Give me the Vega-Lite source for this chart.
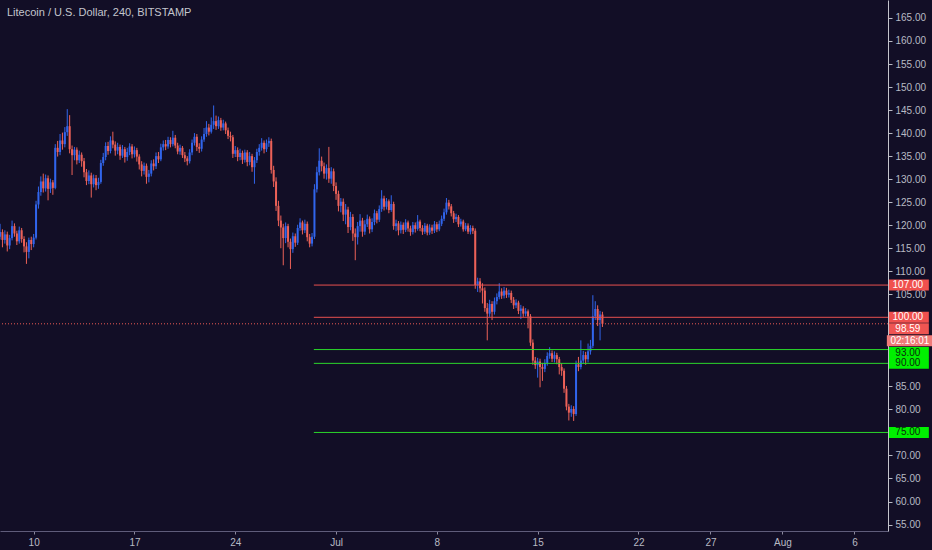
{
  "$schema": "https://vega.github.io/schema/vega-lite/v6.json",
  "description": "Litecoin / U.S. Dollar, 4h candles from Bitstamp with support and resistance levels.",
  "width": 888,
  "height": 531,
  "autosize": {"type": "none"},
  "padding": {"left": 0, "top": 0, "right": 44, "bottom": 19},
  "background": "#120e26",
  "config": {
    "view": {"stroke": null, "fill": "#120e26"},
    "font": "Liberation Sans",
    "axis": {"labelOverlap": false, "grid": false}
  },
  "title": {
    "text": "Litecoin / U.S. Dollar, 240, BITSTAMP",
    "anchor": "start",
    "frame": "group",
    "offset": -18,
    "dx": 7,
    "fontSize": 11,
    "fontWeight": "normal",
    "font": "Liberation Sans",
    "color": "#c3c5cd"
  },
  "datasets": {
    "candles": [
      {"t": "2019-06-07T12:00", "o": 116.9, "h": 119.2, "l": 115.8, "c": 117.5},
      {"t": "2019-06-07T16:00", "o": 117.5, "h": 120.3, "l": 116.9, "c": 118.5},
      {"t": "2019-06-07T20:00", "o": 118.5, "h": 119.1, "l": 115.2, "c": 116.8},
      {"t": "2019-06-08T00:00", "o": 116.8, "h": 118.9, "l": 116.0, "c": 118.0},
      {"t": "2019-06-08T04:00", "o": 118.0, "h": 118.6, "l": 114.3, "c": 115.6},
      {"t": "2019-06-08T08:00", "o": 115.6, "h": 117.9, "l": 114.8, "c": 117.2},
      {"t": "2019-06-08T12:00", "o": 117.2, "h": 121.0, "l": 116.7, "c": 119.8},
      {"t": "2019-06-08T16:00", "o": 119.8, "h": 120.4, "l": 117.5, "c": 118.2},
      {"t": "2019-06-08T20:00", "o": 118.2, "h": 118.8, "l": 115.7, "c": 116.5},
      {"t": "2019-06-09T00:00", "o": 116.5, "h": 119.7, "l": 116.0, "c": 118.9},
      {"t": "2019-06-09T04:00", "o": 118.9, "h": 119.4, "l": 116.2, "c": 117.0},
      {"t": "2019-06-09T08:00", "o": 117.0, "h": 117.6, "l": 114.1, "c": 115.4},
      {"t": "2019-06-09T12:00", "o": 115.4, "h": 116.3, "l": 111.6, "c": 114.2},
      {"t": "2019-06-09T16:00", "o": 114.2, "h": 117.3, "l": 112.8, "c": 116.8},
      {"t": "2019-06-09T20:00", "o": 116.8, "h": 117.5, "l": 114.6, "c": 115.9},
      {"t": "2019-06-10T00:00", "o": 115.9, "h": 118.1, "l": 115.2, "c": 117.3},
      {"t": "2019-06-10T04:00", "o": 117.3, "h": 125.3, "l": 116.9, "c": 124.5},
      {"t": "2019-06-10T08:00", "o": 124.5, "h": 128.4, "l": 123.6, "c": 127.2},
      {"t": "2019-06-10T12:00", "o": 127.2, "h": 130.6, "l": 126.4, "c": 129.5},
      {"t": "2019-06-10T16:00", "o": 129.5, "h": 131.2, "l": 127.1, "c": 128.0},
      {"t": "2019-06-10T20:00", "o": 128.0, "h": 131.0, "l": 127.3, "c": 130.2},
      {"t": "2019-06-11T00:00", "o": 130.2, "h": 130.8, "l": 125.4, "c": 127.9},
      {"t": "2019-06-11T04:00", "o": 127.9, "h": 130.1, "l": 127.0, "c": 129.3},
      {"t": "2019-06-11T08:00", "o": 129.3, "h": 129.8, "l": 126.6, "c": 128.1},
      {"t": "2019-06-11T12:00", "o": 128.1, "h": 137.6, "l": 127.8, "c": 136.8},
      {"t": "2019-06-11T16:00", "o": 136.8, "h": 138.3, "l": 134.9, "c": 135.9},
      {"t": "2019-06-11T20:00", "o": 135.9, "h": 139.8, "l": 135.2, "c": 138.4},
      {"t": "2019-06-12T00:00", "o": 138.4, "h": 140.1, "l": 136.4, "c": 137.6},
      {"t": "2019-06-12T04:00", "o": 137.6, "h": 141.3, "l": 136.9, "c": 140.2},
      {"t": "2019-06-12T08:00", "o": 140.2, "h": 145.2, "l": 139.4, "c": 141.5},
      {"t": "2019-06-12T12:00", "o": 141.5, "h": 143.9, "l": 135.6, "c": 136.5},
      {"t": "2019-06-12T16:00", "o": 136.5, "h": 137.3, "l": 130.9, "c": 135.2},
      {"t": "2019-06-12T20:00", "o": 135.2, "h": 137.0, "l": 134.1, "c": 136.4},
      {"t": "2019-06-13T00:00", "o": 136.4, "h": 136.9, "l": 133.2, "c": 134.1},
      {"t": "2019-06-13T04:00", "o": 134.1, "h": 136.2, "l": 133.5, "c": 135.3},
      {"t": "2019-06-13T08:00", "o": 135.3, "h": 135.8, "l": 132.7, "c": 133.9},
      {"t": "2019-06-13T12:00", "o": 133.9, "h": 134.6, "l": 130.4, "c": 131.5},
      {"t": "2019-06-13T16:00", "o": 131.5, "h": 132.2, "l": 128.7, "c": 129.6},
      {"t": "2019-06-13T20:00", "o": 129.6, "h": 131.9, "l": 128.9, "c": 130.8},
      {"t": "2019-06-14T00:00", "o": 130.8, "h": 131.4, "l": 126.0, "c": 128.9},
      {"t": "2019-06-14T04:00", "o": 128.9, "h": 131.0, "l": 128.2, "c": 130.2},
      {"t": "2019-06-14T08:00", "o": 130.2, "h": 130.9, "l": 127.6, "c": 128.7},
      {"t": "2019-06-14T12:00", "o": 128.7, "h": 130.3, "l": 127.9, "c": 129.4},
      {"t": "2019-06-14T16:00", "o": 129.4, "h": 134.2, "l": 129.0, "c": 133.5},
      {"t": "2019-06-14T20:00", "o": 133.5, "h": 135.7, "l": 132.9, "c": 134.8},
      {"t": "2019-06-15T00:00", "o": 134.8, "h": 138.0, "l": 134.1, "c": 137.2},
      {"t": "2019-06-15T04:00", "o": 137.2, "h": 138.1, "l": 135.3, "c": 136.1},
      {"t": "2019-06-15T08:00", "o": 136.1, "h": 139.3, "l": 135.6, "c": 138.4},
      {"t": "2019-06-15T12:00", "o": 138.4, "h": 140.3, "l": 136.7, "c": 137.5},
      {"t": "2019-06-15T16:00", "o": 137.5, "h": 138.2, "l": 135.1, "c": 136.2},
      {"t": "2019-06-15T20:00", "o": 136.2, "h": 137.9, "l": 135.4, "c": 137.0},
      {"t": "2019-06-16T00:00", "o": 137.0, "h": 137.5, "l": 134.2, "c": 135.1},
      {"t": "2019-06-16T04:00", "o": 135.1, "h": 137.4, "l": 134.6, "c": 136.5},
      {"t": "2019-06-16T08:00", "o": 136.5, "h": 137.0, "l": 133.6, "c": 134.8},
      {"t": "2019-06-16T12:00", "o": 134.8, "h": 136.8, "l": 134.0, "c": 135.9},
      {"t": "2019-06-16T16:00", "o": 135.9, "h": 137.8, "l": 135.2, "c": 137.1},
      {"t": "2019-06-16T20:00", "o": 137.1, "h": 137.6, "l": 134.5, "c": 135.4},
      {"t": "2019-06-17T00:00", "o": 135.4, "h": 137.1, "l": 134.7, "c": 136.3},
      {"t": "2019-06-17T04:00", "o": 136.3, "h": 136.8, "l": 133.8, "c": 134.9},
      {"t": "2019-06-17T08:00", "o": 134.9, "h": 135.4, "l": 132.1, "c": 133.2},
      {"t": "2019-06-17T12:00", "o": 133.2, "h": 133.9, "l": 130.6, "c": 131.8},
      {"t": "2019-06-17T16:00", "o": 131.8, "h": 133.6, "l": 131.0, "c": 132.9},
      {"t": "2019-06-17T20:00", "o": 132.9, "h": 133.4, "l": 129.0, "c": 130.5},
      {"t": "2019-06-18T00:00", "o": 130.5, "h": 132.0, "l": 129.3, "c": 131.2},
      {"t": "2019-06-18T04:00", "o": 131.2, "h": 134.1, "l": 130.6, "c": 133.4},
      {"t": "2019-06-18T08:00", "o": 133.4, "h": 134.3, "l": 131.9, "c": 132.8},
      {"t": "2019-06-18T12:00", "o": 132.8, "h": 135.8, "l": 132.2, "c": 135.0},
      {"t": "2019-06-18T16:00", "o": 135.0, "h": 135.9, "l": 133.5, "c": 134.3},
      {"t": "2019-06-18T20:00", "o": 134.3, "h": 137.7, "l": 133.9, "c": 136.9},
      {"t": "2019-06-19T00:00", "o": 136.9, "h": 138.4, "l": 136.2, "c": 137.6},
      {"t": "2019-06-19T04:00", "o": 137.6, "h": 138.5, "l": 136.3, "c": 137.1},
      {"t": "2019-06-19T08:00", "o": 137.1, "h": 139.2, "l": 136.6, "c": 138.5},
      {"t": "2019-06-19T12:00", "o": 138.5, "h": 139.1, "l": 136.9, "c": 137.6},
      {"t": "2019-06-19T16:00", "o": 137.6, "h": 140.5, "l": 137.1, "c": 139.0},
      {"t": "2019-06-19T20:00", "o": 139.0, "h": 139.6, "l": 136.7, "c": 137.3},
      {"t": "2019-06-20T00:00", "o": 137.3, "h": 137.9, "l": 135.4, "c": 136.0},
      {"t": "2019-06-20T04:00", "o": 136.0, "h": 137.5, "l": 135.3, "c": 136.8},
      {"t": "2019-06-20T08:00", "o": 136.8, "h": 137.2, "l": 134.6, "c": 135.2},
      {"t": "2019-06-20T12:00", "o": 135.2, "h": 135.9, "l": 133.7, "c": 134.5},
      {"t": "2019-06-20T16:00", "o": 134.5, "h": 135.0, "l": 133.0, "c": 133.9},
      {"t": "2019-06-20T20:00", "o": 133.9, "h": 136.5, "l": 133.4, "c": 135.8},
      {"t": "2019-06-21T00:00", "o": 135.8, "h": 138.6, "l": 135.2, "c": 137.9},
      {"t": "2019-06-21T04:00", "o": 137.9, "h": 140.0, "l": 137.3, "c": 139.2},
      {"t": "2019-06-21T08:00", "o": 139.2, "h": 139.8, "l": 136.1, "c": 137.0},
      {"t": "2019-06-21T12:00", "o": 137.0, "h": 137.8, "l": 135.7, "c": 136.6},
      {"t": "2019-06-21T16:00", "o": 136.6, "h": 139.3, "l": 136.0, "c": 138.6},
      {"t": "2019-06-21T20:00", "o": 138.6, "h": 141.1, "l": 138.1, "c": 139.8},
      {"t": "2019-06-22T00:00", "o": 139.8, "h": 142.6, "l": 139.2, "c": 141.2},
      {"t": "2019-06-22T04:00", "o": 141.2, "h": 142.0, "l": 139.5, "c": 140.3},
      {"t": "2019-06-22T08:00", "o": 140.3, "h": 143.4, "l": 139.9, "c": 141.8},
      {"t": "2019-06-22T12:00", "o": 141.8, "h": 146.0, "l": 140.9, "c": 142.6},
      {"t": "2019-06-22T16:00", "o": 142.6, "h": 143.8, "l": 140.7, "c": 141.5},
      {"t": "2019-06-22T20:00", "o": 141.5, "h": 143.6, "l": 140.9, "c": 142.8},
      {"t": "2019-06-23T00:00", "o": 142.8, "h": 143.3, "l": 140.5, "c": 141.2},
      {"t": "2019-06-23T04:00", "o": 141.2, "h": 142.9, "l": 140.6, "c": 142.1},
      {"t": "2019-06-23T08:00", "o": 142.1, "h": 142.5, "l": 139.8, "c": 140.6},
      {"t": "2019-06-23T12:00", "o": 140.6, "h": 141.2, "l": 138.7, "c": 139.4},
      {"t": "2019-06-23T16:00", "o": 139.4, "h": 140.3, "l": 138.2, "c": 139.1},
      {"t": "2019-06-23T20:00", "o": 139.1, "h": 139.6, "l": 134.6, "c": 135.5},
      {"t": "2019-06-24T00:00", "o": 135.5, "h": 137.2, "l": 134.8, "c": 136.3},
      {"t": "2019-06-24T04:00", "o": 136.3, "h": 136.9, "l": 133.9, "c": 134.8},
      {"t": "2019-06-24T08:00", "o": 134.8, "h": 136.6, "l": 134.1, "c": 135.7},
      {"t": "2019-06-24T12:00", "o": 135.7, "h": 136.2, "l": 133.3, "c": 134.2},
      {"t": "2019-06-24T16:00", "o": 134.2, "h": 136.4, "l": 133.6, "c": 135.8},
      {"t": "2019-06-24T20:00", "o": 135.8, "h": 136.3, "l": 132.8, "c": 133.7},
      {"t": "2019-06-25T00:00", "o": 133.7, "h": 135.9, "l": 133.0, "c": 135.0},
      {"t": "2019-06-25T04:00", "o": 135.0, "h": 135.5, "l": 131.6, "c": 132.6},
      {"t": "2019-06-25T08:00", "o": 132.6, "h": 134.8, "l": 129.0, "c": 134.1},
      {"t": "2019-06-25T12:00", "o": 134.1, "h": 136.6, "l": 133.5, "c": 135.9},
      {"t": "2019-06-25T16:00", "o": 135.9, "h": 137.6, "l": 135.1, "c": 136.8},
      {"t": "2019-06-25T20:00", "o": 136.8, "h": 138.9, "l": 136.2, "c": 137.9},
      {"t": "2019-06-26T00:00", "o": 137.9, "h": 138.4, "l": 135.6, "c": 136.5},
      {"t": "2019-06-26T04:00", "o": 136.5, "h": 138.6, "l": 135.9, "c": 137.8},
      {"t": "2019-06-26T08:00", "o": 137.8, "h": 139.1, "l": 137.0, "c": 138.3},
      {"t": "2019-06-26T12:00", "o": 138.3, "h": 138.8, "l": 131.2, "c": 132.0},
      {"t": "2019-06-26T16:00", "o": 132.0, "h": 132.9, "l": 128.3, "c": 129.5},
      {"t": "2019-06-26T20:00", "o": 129.5, "h": 130.4, "l": 123.1, "c": 124.2},
      {"t": "2019-06-27T00:00", "o": 124.2, "h": 125.3, "l": 119.8, "c": 121.0},
      {"t": "2019-06-27T04:00", "o": 121.0, "h": 122.1, "l": 115.0, "c": 119.5},
      {"t": "2019-06-27T08:00", "o": 119.5, "h": 120.3, "l": 111.3, "c": 117.2},
      {"t": "2019-06-27T12:00", "o": 117.2, "h": 120.6, "l": 116.1, "c": 119.8},
      {"t": "2019-06-27T16:00", "o": 119.8, "h": 120.3, "l": 115.2, "c": 116.4},
      {"t": "2019-06-27T20:00", "o": 116.4, "h": 117.1, "l": 110.5, "c": 114.8},
      {"t": "2019-06-28T00:00", "o": 114.8, "h": 118.4, "l": 114.0, "c": 117.6},
      {"t": "2019-06-28T04:00", "o": 117.6, "h": 118.2, "l": 115.3, "c": 116.2},
      {"t": "2019-06-28T08:00", "o": 116.2, "h": 120.1, "l": 115.7, "c": 119.4},
      {"t": "2019-06-28T12:00", "o": 119.4, "h": 121.5, "l": 118.8, "c": 120.6},
      {"t": "2019-06-28T16:00", "o": 120.6, "h": 121.0, "l": 118.0, "c": 118.9},
      {"t": "2019-06-28T20:00", "o": 118.9, "h": 121.2, "l": 118.3, "c": 120.3},
      {"t": "2019-06-29T00:00", "o": 120.3, "h": 120.8, "l": 116.5, "c": 117.4},
      {"t": "2019-06-29T04:00", "o": 117.4, "h": 118.1, "l": 115.2, "c": 116.0},
      {"t": "2019-06-29T08:00", "o": 116.0, "h": 118.3, "l": 115.4, "c": 117.5},
      {"t": "2019-06-29T12:00", "o": 117.5, "h": 128.9, "l": 117.0, "c": 127.8},
      {"t": "2019-06-29T16:00", "o": 127.8, "h": 132.7, "l": 127.1, "c": 131.5},
      {"t": "2019-06-29T20:00", "o": 131.5, "h": 136.7, "l": 130.8, "c": 134.0},
      {"t": "2019-06-30T00:00", "o": 134.0, "h": 134.9, "l": 131.7, "c": 132.8},
      {"t": "2019-06-30T04:00", "o": 132.8, "h": 133.6, "l": 130.1, "c": 131.2},
      {"t": "2019-06-30T08:00", "o": 131.2, "h": 133.2, "l": 129.9, "c": 132.4},
      {"t": "2019-06-30T12:00", "o": 132.4, "h": 137.0, "l": 129.2, "c": 130.1},
      {"t": "2019-06-30T16:00", "o": 130.1, "h": 132.6, "l": 129.0, "c": 131.7},
      {"t": "2019-06-30T20:00", "o": 131.7, "h": 132.3, "l": 127.4, "c": 128.5},
      {"t": "2019-07-01T00:00", "o": 128.5, "h": 129.3, "l": 125.5, "c": 126.8},
      {"t": "2019-07-01T04:00", "o": 126.8, "h": 127.5, "l": 123.0, "c": 124.2},
      {"t": "2019-07-01T08:00", "o": 124.2, "h": 125.9, "l": 122.8, "c": 125.1},
      {"t": "2019-07-01T12:00", "o": 125.1, "h": 125.8, "l": 120.9, "c": 122.3},
      {"t": "2019-07-01T16:00", "o": 122.3, "h": 124.6, "l": 120.2, "c": 123.4},
      {"t": "2019-07-01T20:00", "o": 123.4, "h": 124.0, "l": 118.3, "c": 119.6},
      {"t": "2019-07-02T00:00", "o": 119.6, "h": 122.9, "l": 118.9, "c": 121.8},
      {"t": "2019-07-02T04:00", "o": 121.8, "h": 122.4, "l": 116.6, "c": 118.2},
      {"t": "2019-07-02T08:00", "o": 118.2, "h": 119.3, "l": 112.4, "c": 117.4},
      {"t": "2019-07-02T12:00", "o": 117.4, "h": 120.7, "l": 115.8, "c": 119.8},
      {"t": "2019-07-02T16:00", "o": 119.8, "h": 122.4, "l": 118.6, "c": 121.0},
      {"t": "2019-07-02T20:00", "o": 121.0, "h": 121.6, "l": 117.5, "c": 118.6},
      {"t": "2019-07-03T00:00", "o": 118.6, "h": 121.1, "l": 117.9, "c": 120.2},
      {"t": "2019-07-03T04:00", "o": 120.2, "h": 122.3, "l": 119.6, "c": 121.4},
      {"t": "2019-07-03T08:00", "o": 121.4, "h": 121.9, "l": 118.2, "c": 119.1},
      {"t": "2019-07-03T12:00", "o": 119.1, "h": 121.5, "l": 118.5, "c": 120.7},
      {"t": "2019-07-03T16:00", "o": 120.7, "h": 123.4, "l": 120.0, "c": 122.6},
      {"t": "2019-07-03T20:00", "o": 122.6, "h": 123.1, "l": 120.4, "c": 121.2},
      {"t": "2019-07-04T00:00", "o": 121.2, "h": 124.3, "l": 120.7, "c": 123.5},
      {"t": "2019-07-04T04:00", "o": 123.5, "h": 127.6, "l": 122.9, "c": 125.8},
      {"t": "2019-07-04T08:00", "o": 125.8, "h": 126.4, "l": 123.2, "c": 124.0},
      {"t": "2019-07-04T12:00", "o": 124.0, "h": 125.9, "l": 123.4, "c": 125.2},
      {"t": "2019-07-04T16:00", "o": 125.2, "h": 125.6, "l": 122.6, "c": 123.3},
      {"t": "2019-07-04T20:00", "o": 123.3, "h": 126.5, "l": 122.9, "c": 124.6},
      {"t": "2019-07-05T00:00", "o": 124.6, "h": 125.1, "l": 119.0, "c": 119.8},
      {"t": "2019-07-05T04:00", "o": 119.8, "h": 121.2, "l": 118.7, "c": 120.4},
      {"t": "2019-07-05T08:00", "o": 120.4, "h": 120.9, "l": 117.8, "c": 118.9},
      {"t": "2019-07-05T12:00", "o": 118.9, "h": 120.8, "l": 118.2, "c": 120.1},
      {"t": "2019-07-05T16:00", "o": 120.1, "h": 120.6, "l": 118.1, "c": 119.0},
      {"t": "2019-07-05T20:00", "o": 119.0, "h": 121.3, "l": 118.5, "c": 120.6},
      {"t": "2019-07-06T00:00", "o": 120.6, "h": 121.0, "l": 118.6, "c": 119.3},
      {"t": "2019-07-06T04:00", "o": 119.3, "h": 119.9, "l": 117.7, "c": 118.5},
      {"t": "2019-07-06T08:00", "o": 118.5, "h": 120.7, "l": 118.0, "c": 120.0},
      {"t": "2019-07-06T12:00", "o": 120.0, "h": 120.6, "l": 118.4, "c": 119.2},
      {"t": "2019-07-06T16:00", "o": 119.2, "h": 122.2, "l": 118.8, "c": 120.8},
      {"t": "2019-07-06T20:00", "o": 120.8, "h": 121.2, "l": 118.7, "c": 119.4},
      {"t": "2019-07-07T00:00", "o": 119.4, "h": 120.0, "l": 117.9, "c": 118.6},
      {"t": "2019-07-07T04:00", "o": 118.6, "h": 120.5, "l": 118.1, "c": 119.9},
      {"t": "2019-07-07T08:00", "o": 119.9, "h": 120.3, "l": 117.8, "c": 118.4},
      {"t": "2019-07-07T12:00", "o": 118.4, "h": 120.2, "l": 117.9, "c": 119.5},
      {"t": "2019-07-07T16:00", "o": 119.5, "h": 120.1, "l": 118.1, "c": 118.8},
      {"t": "2019-07-07T20:00", "o": 118.8, "h": 120.9, "l": 118.3, "c": 120.2},
      {"t": "2019-07-08T00:00", "o": 120.2, "h": 120.7, "l": 118.5, "c": 119.1},
      {"t": "2019-07-08T04:00", "o": 119.1, "h": 121.0, "l": 118.7, "c": 120.3},
      {"t": "2019-07-08T08:00", "o": 120.3, "h": 122.1, "l": 119.8, "c": 121.4},
      {"t": "2019-07-08T12:00", "o": 121.4, "h": 123.6, "l": 120.9, "c": 122.8},
      {"t": "2019-07-08T16:00", "o": 122.8, "h": 125.9, "l": 122.3, "c": 124.9},
      {"t": "2019-07-08T20:00", "o": 124.9, "h": 125.5, "l": 123.4, "c": 124.1},
      {"t": "2019-07-09T00:00", "o": 124.1, "h": 124.6, "l": 121.9, "c": 122.6},
      {"t": "2019-07-09T04:00", "o": 122.6, "h": 123.1, "l": 120.5, "c": 121.3},
      {"t": "2019-07-09T08:00", "o": 121.3, "h": 122.5, "l": 120.7, "c": 121.8},
      {"t": "2019-07-09T12:00", "o": 121.8, "h": 122.2, "l": 119.6, "c": 120.2},
      {"t": "2019-07-09T16:00", "o": 120.2, "h": 121.4, "l": 119.7, "c": 120.8},
      {"t": "2019-07-09T20:00", "o": 120.8, "h": 121.2, "l": 118.6, "c": 119.1},
      {"t": "2019-07-10T00:00", "o": 119.1, "h": 120.5, "l": 118.7, "c": 119.9},
      {"t": "2019-07-10T04:00", "o": 119.9, "h": 120.4, "l": 118.1, "c": 118.6},
      {"t": "2019-07-10T08:00", "o": 118.6, "h": 120.0, "l": 118.0, "c": 119.4},
      {"t": "2019-07-10T12:00", "o": 119.4, "h": 119.9, "l": 118.1, "c": 118.8},
      {"t": "2019-07-10T16:00", "o": 118.8, "h": 119.3, "l": 106.2, "c": 107.0},
      {"t": "2019-07-10T20:00", "o": 107.0, "h": 108.6, "l": 105.5, "c": 107.8},
      {"t": "2019-07-11T00:00", "o": 107.8, "h": 108.5, "l": 105.4, "c": 106.3},
      {"t": "2019-07-11T04:00", "o": 106.3, "h": 107.4, "l": 103.0, "c": 105.8},
      {"t": "2019-07-11T08:00", "o": 105.8, "h": 106.5, "l": 101.2, "c": 102.0},
      {"t": "2019-07-11T12:00", "o": 102.0, "h": 103.1, "l": 95.0, "c": 100.8},
      {"t": "2019-07-11T16:00", "o": 100.8, "h": 103.8, "l": 100.1, "c": 102.9},
      {"t": "2019-07-11T20:00", "o": 102.9, "h": 103.5, "l": 99.4, "c": 101.2},
      {"t": "2019-07-12T00:00", "o": 101.2, "h": 104.3, "l": 100.6, "c": 103.5},
      {"t": "2019-07-12T04:00", "o": 103.5, "h": 105.2, "l": 102.8, "c": 104.4},
      {"t": "2019-07-12T08:00", "o": 104.4, "h": 107.4, "l": 103.9, "c": 105.6},
      {"t": "2019-07-12T12:00", "o": 105.6, "h": 106.3, "l": 104.0, "c": 104.7},
      {"t": "2019-07-12T16:00", "o": 104.7, "h": 106.6, "l": 104.1, "c": 105.8},
      {"t": "2019-07-12T20:00", "o": 105.8, "h": 106.4, "l": 104.2, "c": 104.9},
      {"t": "2019-07-13T00:00", "o": 104.9, "h": 106.0, "l": 104.3, "c": 105.3},
      {"t": "2019-07-13T04:00", "o": 105.3, "h": 105.8, "l": 103.1, "c": 103.8},
      {"t": "2019-07-13T08:00", "o": 103.8, "h": 104.4, "l": 101.8, "c": 102.6},
      {"t": "2019-07-13T12:00", "o": 102.6, "h": 103.9, "l": 102.0, "c": 103.2},
      {"t": "2019-07-13T16:00", "o": 103.2, "h": 103.6, "l": 100.7, "c": 101.4},
      {"t": "2019-07-13T20:00", "o": 101.4, "h": 102.7, "l": 99.6, "c": 101.9},
      {"t": "2019-07-14T00:00", "o": 101.9, "h": 102.4, "l": 100.1, "c": 100.8},
      {"t": "2019-07-14T04:00", "o": 100.8, "h": 102.0, "l": 100.2, "c": 101.3},
      {"t": "2019-07-14T08:00", "o": 101.3, "h": 101.7, "l": 97.6, "c": 100.2},
      {"t": "2019-07-14T12:00", "o": 100.2, "h": 100.7, "l": 93.8, "c": 94.5},
      {"t": "2019-07-14T16:00", "o": 94.5, "h": 95.2, "l": 89.7, "c": 90.6},
      {"t": "2019-07-14T20:00", "o": 90.6, "h": 91.4, "l": 88.8, "c": 89.6},
      {"t": "2019-07-15T00:00", "o": 89.6, "h": 91.2, "l": 86.9, "c": 90.4},
      {"t": "2019-07-15T04:00", "o": 90.4, "h": 91.0, "l": 84.8, "c": 89.2},
      {"t": "2019-07-15T08:00", "o": 89.2, "h": 90.1, "l": 86.2, "c": 88.8},
      {"t": "2019-07-15T12:00", "o": 88.8, "h": 90.9, "l": 88.1, "c": 90.1},
      {"t": "2019-07-15T16:00", "o": 90.1, "h": 92.4, "l": 89.5, "c": 91.6},
      {"t": "2019-07-15T20:00", "o": 91.6, "h": 93.5, "l": 91.0, "c": 92.2},
      {"t": "2019-07-16T00:00", "o": 92.2, "h": 92.8, "l": 90.3, "c": 91.0},
      {"t": "2019-07-16T04:00", "o": 91.0, "h": 92.6, "l": 90.2, "c": 91.8},
      {"t": "2019-07-16T08:00", "o": 91.8, "h": 92.3, "l": 89.8, "c": 90.9},
      {"t": "2019-07-16T12:00", "o": 90.9, "h": 91.4, "l": 87.6, "c": 89.2},
      {"t": "2019-07-16T16:00", "o": 89.2, "h": 90.0, "l": 87.3, "c": 88.4},
      {"t": "2019-07-16T20:00", "o": 88.4, "h": 88.9, "l": 83.6, "c": 84.5},
      {"t": "2019-07-17T00:00", "o": 84.5, "h": 85.1, "l": 79.8, "c": 80.6},
      {"t": "2019-07-17T04:00", "o": 80.6, "h": 81.2, "l": 77.6, "c": 79.3},
      {"t": "2019-07-17T08:00", "o": 79.3, "h": 80.9, "l": 78.4, "c": 80.1},
      {"t": "2019-07-17T12:00", "o": 80.1, "h": 80.7, "l": 77.5, "c": 79.0},
      {"t": "2019-07-17T16:00", "o": 79.0, "h": 90.6, "l": 78.6, "c": 89.8},
      {"t": "2019-07-17T20:00", "o": 89.8, "h": 91.4, "l": 88.3, "c": 89.2},
      {"t": "2019-07-18T00:00", "o": 89.2, "h": 95.0, "l": 88.7, "c": 90.6},
      {"t": "2019-07-18T04:00", "o": 90.6, "h": 92.7, "l": 89.9, "c": 91.8},
      {"t": "2019-07-18T08:00", "o": 91.8, "h": 92.5, "l": 89.7, "c": 90.9},
      {"t": "2019-07-18T12:00", "o": 90.9, "h": 94.3, "l": 90.2, "c": 92.6},
      {"t": "2019-07-18T16:00", "o": 92.6, "h": 95.1, "l": 91.9, "c": 93.8},
      {"t": "2019-07-18T20:00", "o": 93.8, "h": 104.8, "l": 93.3, "c": 100.2},
      {"t": "2019-07-19T00:00", "o": 100.2, "h": 103.5, "l": 99.4, "c": 101.8},
      {"t": "2019-07-19T04:00", "o": 101.8, "h": 102.6, "l": 98.1, "c": 99.4},
      {"t": "2019-07-19T08:00", "o": 99.4, "h": 101.4, "l": 95.0, "c": 100.6},
      {"t": "2019-07-19T12:00", "o": 100.6, "h": 101.2, "l": 97.9, "c": 98.59}
    ],
    "levels": [
      {"v": 107, "k": "r"},
      {"v": 100, "k": "r"},
      {"v": 93, "k": "g"},
      {"v": 90, "k": "g"},
      {"v": 75, "k": "g"}
    ],
    "tags": [
      {"v": 107, "s": "107.00", "k": "r"},
      {"v": 100, "s": "100.00", "k": "r"},
      {"v": 98.59, "s": "98.59", "k": "p"},
      {"v": 98.59, "s": "02:16:01", "k": "t"},
      {"v": 93, "s": "93.00", "k": "g2"},
      {"v": 90, "s": "90.00", "k": "g"},
      {"v": 75, "s": "75.00", "k": "g"}
    ]
  },
  "layer": [
    {
      "data": {"name": "candles"},
      "mark": {"type": "rule", "strokeWidth": 1},
      "encoding": {
        "x": {
          "field": "t",
          "type": "temporal",
          "title": null,
          "scale": {
            "domain": [
              {"year": 2019, "month": 6, "date": 7, "hours": 15, "minutes": 55},
              {"year": 2019, "month": 8, "date": 8, "hours": 7, "minutes": 55}
            ],
            "padding": 0
          },
          "axis": {
            "values": [
              {"year": 2019, "month": 6, "date": 10},
              {"year": 2019, "month": 6, "date": 17},
              {"year": 2019, "month": 6, "date": 24},
              {"year": 2019, "month": 7, "date": 1},
              {"year": 2019, "month": 7, "date": 8},
              {"year": 2019, "month": 7, "date": 15},
              {"year": 2019, "month": 7, "date": 22},
              {"year": 2019, "month": 7, "date": 27},
              {"year": 2019, "month": 8, "date": 1},
              {"year": 2019, "month": 8, "date": 6}
            ],
            "tickCount": 30,
            "labelExpr": "date(datum.value) == 1 ? timeFormat(datum.value, '%b') : timeFormat(datum.value, '%-d')",
            "domainColor": "#5f5c7a",
            "tickColor": "#8a889c",
            "tickSize": 3,
            "labelColor": "#b8bac4",
            "labelFont": "Liberation Sans",
            "labelFontSize": 10,
            "labelPadding": 3,
            "labelOverlap": false
          }
        },
        "y": {
          "field": "l",
          "type": "quantitative",
          "title": null,
          "scale": {"domain": [53.6, 168.9], "nice": false, "zero": false, "padding": 0},
          "axis": {
            "orient": "right",
            "values": [55, 60, 65, 70, 80, 85, 105, 110, 115, 120, 125, 130, 135, 140, 145, 150, 155, 160, 165],
            "tickCount": 30,
            "format": ".2f",
            "domainColor": "#c4c4cc",
            "tickColor": "#b8bac4",
            "tickSize": 4,
            "labelColor": "#b8bac4",
            "labelFont": "Liberation Sans",
            "labelFontSize": 10,
            "labelPadding": 3,
            "labelOverlap": false
          }
        },
        "y2": {"field": "h"},
        "color": {"condition": {"test": "datum.c >= datum.o", "value": "#3165ec"}, "value": "#ec6158"}
      }
    },
    {
      "data": {"name": "candles"},
      "mark": {"type": "bar", "size": 2},
      "encoding": {
        "x": {"field": "t", "type": "temporal"},
        "y": {"field": "o", "type": "quantitative"},
        "y2": {"field": "c"},
        "color": {"condition": {"test": "datum.c >= datum.o", "value": "#3165ec"}, "value": "#ec6158"}
      }
    },
    {
      "data": {"name": "tags"},
      "transform": [{"filter": "datum.k == 'p'"}],
      "mark": {"type": "rule", "strokeWidth": 1, "strokeDash": [1, 2], "color": "#ec5a55"},
      "encoding": {
        "y": {"field": "v", "type": "quantitative"}
      }
    },
    {
      "data": {"name": "levels"},
      "mark": {"type": "rule", "strokeWidth": 1},
      "encoding": {
        "x": {"datum": {"year": 2019, "month": 6, "date": 29, "hours": 11}, "type": "temporal"},
        "x2": {"datum": {"year": 2019, "month": 8, "date": 8, "hours": 7, "minutes": 55}},
        "y": {"field": "v", "type": "quantitative"},
        "color": {"condition": {"test": "datum.k == 'g'", "value": "#2bd62b"}, "value": "#e8504f"}
      }
    },
    {
      "data": {"name": "tags"},
      "transform": [{"filter": "datum.k == 'r' || datum.k == 'g'"}],
      "layer": [
        {
          "mark": {"type": "bar", "orient": "horizontal", "size": 11},
          "encoding": {
            "x": {"datum": {"year": 2019, "month": 8, "date": 8, "hours": 9, "minutes": 30}, "type": "temporal"},
            "x2": {"datum": {"year": 2019, "month": 8, "date": 11, "hours": 4}},
            "y": {"field": "v", "type": "quantitative"},
            "color": {"condition": {"test": "datum.k == 'g'", "value": "#00f000"}, "value": "#f0504e"}
          }
        },
        {
          "mark": {"type": "text", "fontSize": 10, "font": "Liberation Sans", "baseline": "middle", "align": "center"},
          "encoding": {
            "x": {"datum": {"year": 2019, "month": 8, "date": 9, "hours": 17}, "type": "temporal"},
            "y": {"field": "v", "type": "quantitative"},
            "text": {"field": "s"},
            "color": {"condition": {"test": "datum.k == 'g'", "value": "#0b2a0b"}, "value": "#ffffff"}
          }
        }
      ]
    },
    {
      "data": {"name": "tags"},
      "transform": [{"filter": "datum.k == 'p'"}],
      "layer": [
        {
          "mark": {"type": "bar", "orient": "horizontal", "size": 11, "yOffset": 5, "color": "#ef5552"},
          "encoding": {
            "x": {"datum": {"year": 2019, "month": 8, "date": 8, "hours": 9, "minutes": 30}, "type": "temporal"},
            "x2": {"datum": {"year": 2019, "month": 8, "date": 11, "hours": 4}},
            "y": {"field": "v", "type": "quantitative"}
          }
        },
        {
          "mark": {"type": "text", "fontSize": 10, "font": "Liberation Sans", "baseline": "middle", "align": "center", "yOffset": 5, "color": "#ffffff"},
          "encoding": {
            "x": {"datum": {"year": 2019, "month": 8, "date": 9, "hours": 17}, "type": "temporal"},
            "y": {"field": "v", "type": "quantitative"},
            "text": {"field": "s"}
          }
        }
      ]
    },
    {
      "data": {"name": "tags"},
      "transform": [{"filter": "datum.k == 't'"}],
      "layer": [
        {
          "mark": {"type": "bar", "orient": "horizontal", "size": 11, "yOffset": 17, "color": "#f07a78"},
          "encoding": {
            "x": {"datum": {"year": 2019, "month": 8, "date": 8, "hours": 6}, "type": "temporal"},
            "x2": {"datum": {"year": 2019, "month": 8, "date": 12}},
            "y": {"field": "v", "type": "quantitative"}
          }
        },
        {
          "mark": {"type": "text", "fontSize": 10, "font": "Liberation Sans", "baseline": "middle", "align": "center", "yOffset": 17, "color": "#ffffff"},
          "encoding": {
            "x": {"datum": {"year": 2019, "month": 8, "date": 9, "hours": 20, "minutes": 30}, "type": "temporal"},
            "y": {"field": "v", "type": "quantitative"},
            "text": {"field": "s"}
          }
        }
      ]
    },
    {
      "data": {"name": "tags"},
      "transform": [{"filter": "datum.k == 'g2'"}],
      "layer": [
        {
          "mark": {"type": "bar", "orient": "horizontal", "size": 11, "yOffset": 3, "color": "#00f000"},
          "encoding": {
            "x": {"datum": {"year": 2019, "month": 8, "date": 8, "hours": 9, "minutes": 30}, "type": "temporal"},
            "x2": {"datum": {"year": 2019, "month": 8, "date": 11, "hours": 4}},
            "y": {"field": "v", "type": "quantitative"}
          }
        },
        {
          "mark": {"type": "text", "fontSize": 10, "font": "Liberation Sans", "baseline": "middle", "align": "center", "yOffset": 3, "color": "#0b2a0b"},
          "encoding": {
            "x": {"datum": {"year": 2019, "month": 8, "date": 9, "hours": 17}, "type": "temporal"},
            "y": {"field": "v", "type": "quantitative"},
            "text": {"field": "s"}
          }
        }
      ]
    }
  ]
}
